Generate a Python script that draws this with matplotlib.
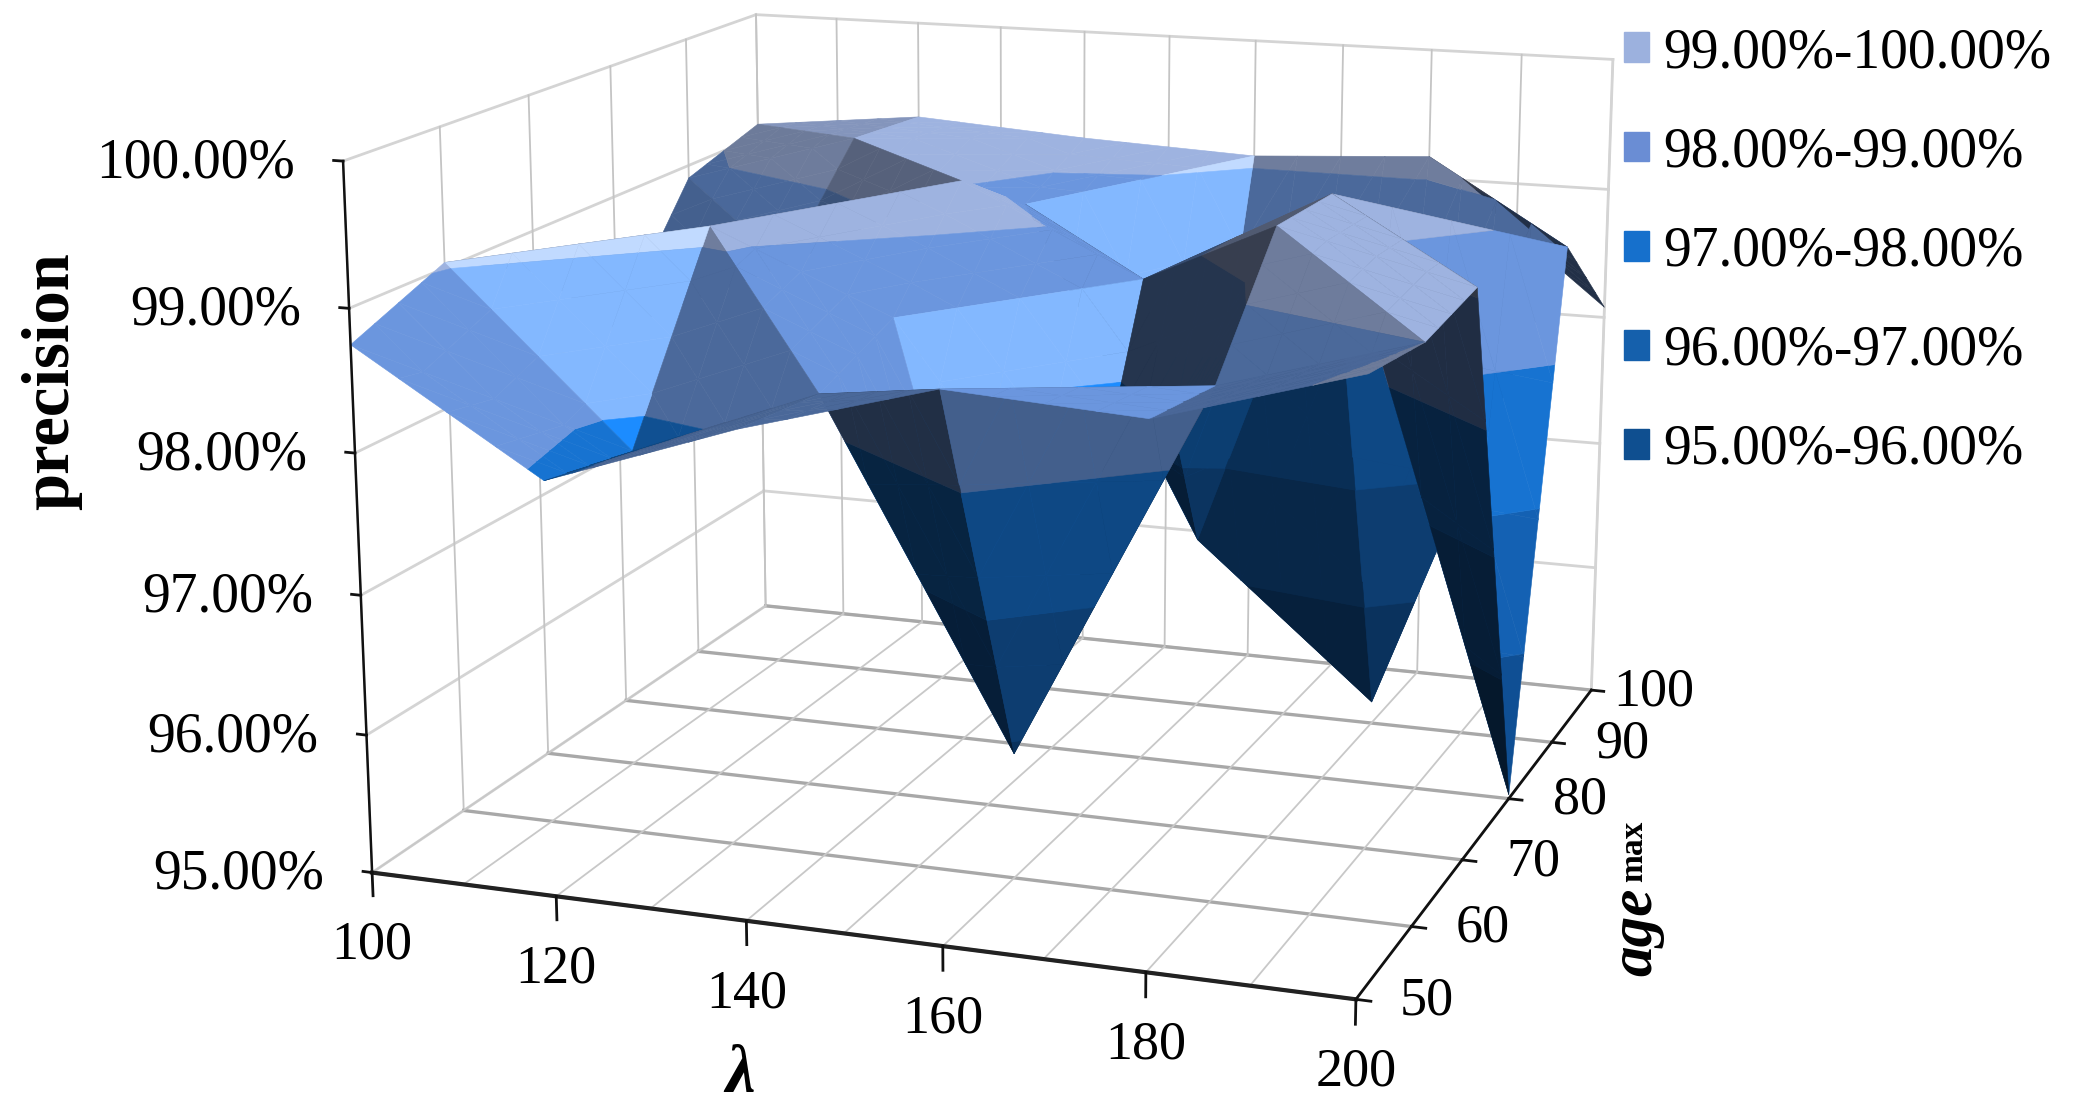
import numpy as np
import matplotlib
matplotlib.use("Agg")
import matplotlib.pyplot as plt
from matplotlib.patches import Patch
from mpl_toolkits.mplot3d.art3d import Poly3DCollection

W, H = 2080, 1120

lam = [100, 120, 140, 160, 180, 200]
ages = [50, 60, 70, 80, 90, 100]
# one row per age, one column per lambda
prec_50 = [98.75, 97.93, 98.40, 98.78, 98.70, 99.10]
prec_60 = [99.04, 97.80, 98.32, 95.90, 98.60, 99.00]
prec_70 = [98.70, 99.13, 98.56, 96.80, 99.41, 99.08]
prec_80 = [97.97, 98.57, 99.30, 98.66, 99.38, 95.03]
prec_90 = [98.90, 99.30, 98.87, 96.33, 95.17, 98.82]
prec_100 = [99.10, 99.24, 99.15, 99.09, 99.17, 98.08]
prec = np.array([prec_50, prec_60, prec_70, prec_80, prec_90, prec_100])

z_ticks = [95, 96, 97, 98, 99, 100]
z_labels = ["95.00%", "96.00%", "97.00%", "98.00%", "99.00%", "100.00%"]
lam_grid = [100, 110, 120, 130, 140, 150, 160, 170, 180, 190, 200]
band_labels = ["95.00%-96.00%", "96.00%-97.00%", "97.00%-98.00%", "98.00%-99.00%", "99.00%-100.00%"]
band_colors = [(0.06, 0.31, 0.58), (0.08, 0.38, 0.70), (0.09, 0.45, 0.82), (0.42, 0.59, 0.87), (0.62, 0.70, 0.88)]
legend_colors = ["#0f4f90", "#1560ac", "#1670cc", "#6a8dd4", "#9cb1de"]

# corners of the chart box in the picture (x, y, in full size pixels)
box_data = [(100, 50, 95), (200, 50, 95), (200, 100, 95), (100, 100, 95),
            (100, 50, 100), (100, 100, 100), (200, 100, 100)]
box_pix = [(373, 873), (1355, 1000), (1592, 689), (765, 606),
           (343, 160), (756, 15), (1613, 60)]

fig = plt.figure(figsize=(W / 100, H / 100), dpi=100)
ax = fig.add_axes([0, 0, 1, 1], projection="3d", computed_zorder=False)
ax.apply_aspect = lambda position=None: None
ax.set_axis_off()
ax.set_xlim(100, 200)
ax.set_ylim(50, 100)
ax.set_zlim(95, 100)

#fit the perspective of the picture
A = []
b = []
for (x, y, z), (px, py) in zip(box_data, box_pix):
    u, v, t = (x - 100) / 100, (y - 50) / 50, (z - 95) / 5
    A.append([u, v, t, 1, 0, 0, 0, 0, -px * u, -px * v, -px * t])
    b.append(px)
    A.append([0, 0, 0, 0, u, v, t, 1, -py * u, -py * v, -py * t])
    b.append(py)
h = np.linalg.lstsq(np.array(A, dtype=float), np.array(b, dtype=float), rcond=None)[0]
P = np.array([h[:4], h[4:8], [h[8], h[9], h[10], 1.0]])
T = np.array([[1 / 100, 0, 0, -1], [0, 1 / 50, 0, -1], [0, 0, 1 / 5, -19], [0, 0, 0, 1]])
P = P @ T
camera = np.linalg.svd(P)[2][-1]
camera = camera / camera[3]

inv = ax.transData.inverted()
p0 = inv.transform((0, 0))
p1 = inv.transform((W, H))
sx = (p1[0] - p0[0]) / W
sy = (p1[1] - p0[1]) / H
M = np.array([p0[0] * P[2] + sx * P[0],
              (p0[1] + sy * H) * P[2] - sy * P[1],
              [0, 0, 0, -1],
              P[2]])
ax.get_proj = lambda: M


def to_pix(x, y, z):
    q = P @ np.array([x, y, z, 1.0])
    return q[0] / q[2], q[1] / q[2]


def put_text(px, py, s, **kw):
    return fig.text(px / W, 1 - py / H, s, **kw)


def cell_units(p):
    p = np.asarray(p, dtype=float)
    return np.array([(p[0] - 100) / 20, (p[1] - 50) / 10, (p[2] - 95) * 0.72])


#how light or dark a face is, from its tilt and the side we see
def tone(tri):
    a, b, c = [cell_units(p) for p in tri]
    n = np.cross(b - a, c - a)
    n = n / np.linalg.norm(n)
    if n[2] < 0:
        n = -n
    seen_from_below = np.dot(n, cell_units(camera[:3]) - (a + b + c) / 3) < 0
    if seen_from_below:
        return np.interp(n[0], [-0.6, 0.65], [0.63, 0.30])
    if n[0] > 0.4 and abs(n[1]) > 0.3 and n[2] > 0.3:
        return 1.22
    if abs(n[1]) > 0.6 and n[0] < 0.3:
        return 0.7
    return np.interp(n[0], [-0.6, -0.3, -0.15, -0.03], [0.35, 0.68, 0.72, 1.0])


def clip(poly, level, keep_above):
    out = []
    for k in range(len(poly)):
        p, q = poly[k], poly[(k + 1) % len(poly)]
        p_in = p[2] >= level if keep_above else p[2] <= level
        q_in = q[2] >= level if keep_above else q[2] <= level
        if p_in:
            out.append(p)
        if p_in != q_in:
            out.append(p + (q - p) * (level - p[2]) / (q[2] - p[2]))
    return out


def subdivide(tri, n):
    a, b, c = tri
    pt = lambda i, j: a + (b - a) * i / n + (c - a) * j / n
    out = []
    for i in range(n):
        for j in range(n - i):
            out.append([pt(i, j), pt(i + 1, j), pt(i, j + 1)])
            if i + j < n - 1:
                out.append([pt(i + 1, j), pt(i + 1, j + 1), pt(i, j + 1)])
    return out


#the diagonal of each cell joins the closer pair of heights, except these (lambda index, age index)
flip_cells = [(2, 1), (1, 1), (1, 2), (4, 3)]

polys = []
colors = []
for j in range(len(ages) - 1):
    for i in range(len(lam) - 1):
        pa = np.array([lam[i], ages[j], prec[j, i]], dtype=float)
        pb = np.array([lam[i + 1], ages[j], prec[j, i + 1]], dtype=float)
        pc = np.array([lam[i + 1], ages[j + 1], prec[j + 1, i + 1]], dtype=float)
        pd = np.array([lam[i], ages[j + 1], prec[j + 1, i]], dtype=float)
        use_ac = abs(pa[2] - pc[2]) < abs(pb[2] - pd[2])
        if (i, j) in flip_cells:
            use_ac = not use_ac
        if use_ac:
            tris = [[pa, pb, pc], [pa, pc, pd]]
        else:
            tris = [[pa, pb, pd], [pb, pc, pd]]
        for tri in tris:
            f = tone(tri)
            for small in subdivide(tri, 4):
                for band in range(5):
                    poly = clip(small, 95 + band, True)
                    if len(poly) >= 3:
                        poly = clip(poly, 96 + band, False)
                    if len(poly) >= 3:
                        polys.append(np.array(poly))
                        colors.append(tuple(np.clip(np.array(band_colors[band]) * f, 0, 1)))

#walls and floor
grid_c = "#d4d4d4"
for z in z_ticks:
    ax.plot([100, 100], [50, 100], [z, z], color=grid_c, lw=2, zorder=1)
    ax.plot([100, 200], [100, 100], [z, z], color=grid_c, lw=2, zorder=1)
for a in ages:
    ax.plot([100, 100], [a, a], [95, 100], color="#c4c4c4", lw=1.3, zorder=1)
    ax.plot([100, 200], [a, a], [95, 95], color="#a8a8a8", lw=2.4, zorder=1)
for x in lam_grid:
    ax.plot([x, x], [100, 100], [95, 100], color="#c4c4c4", lw=1.3, zorder=1)
    ax.plot([x, x], [50, 100], [95, 95], color="#c8c8c8", lw=1.3, zorder=1)
ax.plot([200, 200], [100, 100], [95, 100], color=grid_c, lw=2, zorder=1)

surface = Poly3DCollection(polys, facecolors=colors, edgecolors=colors, linewidths=0.4, zorder=2)
ax.add_collection3d(surface, autolim=False)

#axis lines and ticks
ax.plot([100, 100], [50, 50], [95, 100], color="#111111", lw=1.8, zorder=3)
ax.plot([100, 200], [50, 50], [95, 95], color="#222222", lw=3, zorder=3)
ax.plot([200, 200], [50, 100], [95, 95], color="#111111", lw=2, zorder=3)
for z, s in zip(z_ticks, z_labels):
    ax.plot([99, 100], [50, 50], [z, z], color="#111111", lw=2, zorder=3)
    px, py = to_pix(100, 50, z)
    put_text(px - 48, py + 2, s, ha="right", va="center", family="Liberation Serif", fontsize=40)
for x in lam[0:]:
    ax.plot([x, x], [50, 50], [94.83, 95], color="#111111", lw=2, zorder=3)
    px, py = to_pix(x, 50, 95)
    put_text(px, py + 73, str(x), ha="center", va="center", family="Liberation Serif", fontsize=39)
for a in ages:
    ax.plot([200, 201.4], [a, a], [95, 95], color="#111111", lw=2, zorder=3)
    px, py = to_pix(200, a, 95)
    put_text(px + (44 if a < 100 else 22), py + 2, str(a), ha="left", va="center",
             family="Liberation Serif", fontsize=39)

#axis titles
put_text(52, 381, "precision", rotation=90, ha="center", va="center", family="Liberation Serif",
         fontweight="bold", fontsize=48)
put_text(740, 1075, "\u03bb", ha="center", va="center", family="Liberation Serif", fontweight="bold",
         fontstyle="italic", fontsize=48)
put_text(1636, 932, "age", rotation=90, ha="center", va="center", family="Liberation Serif",
         fontweight="bold", fontstyle="italic", fontsize=44)
put_text(1634, 851, "max", rotation=90, ha="center", va="center", family="Liberation Serif",
         fontweight="bold", fontsize=24)

handles = [Patch(color=c) for c in legend_colors[::-1]]
fig.legend(handles, band_labels[::-1], loc="upper left", bbox_to_anchor=(1613 / W, 1 - 16 / H),
           frameon=False, prop={"family": "Liberation Serif", "size": 40},
           handlelength=0.45, handleheight=0.45, handletextpad=0.25, labelspacing=0.85,
           borderpad=0.2, borderaxespad=0)

fig.savefig("out.png", dpi=100)
